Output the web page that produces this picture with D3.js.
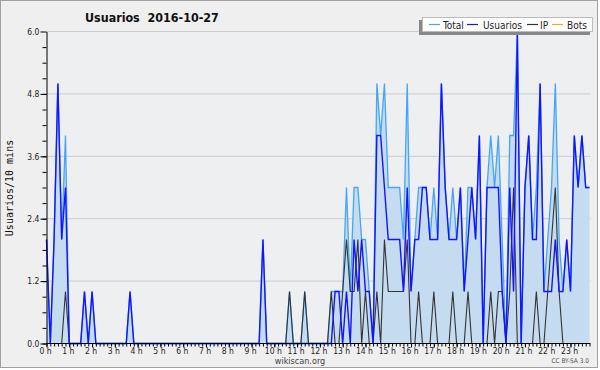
<!DOCTYPE html>
<html>
<head>
<meta charset="utf-8">
<script src="https://cdn.jsdelivr.net/npm/d3@7"></script>
<style>
  body { margin: 0; background: #ffffff; }
  text { font-family: "DejaVu Sans Condensed", "DejaVu Sans", sans-serif; font-stretch: condensed; }
</style>
</head>
<body>
<div id="chart"></div>
<script>
// users per 10 minutes, 144 slots (00:00 .. 23:50)
var usuarios = [
  2,0,2,5,2,3,0,0,0,0,1,0,
  1,0,0,0,0,0,0,0,0,0,1,0,
  0,0,0,0,0,0,0,0,0,0,0,0,
  0,0,0,0,0,0,0,0,0,0,0,0,
  0,0,0,0,0,0,0,0,0,2,0,0,
  0,0,0,0,0,0,0,0,0,0,0,0,
  0,0,0,0,1,1,0,1,0,2,1,2,
  1,1,0,4,4,3,2,2,2,2,1,3,
  1,2,2,3,3,2,2,2,5,3,2,2,
  2,3,1,2,3,2,4,0,3,3,3,3,
  1,0,3,1,6,0,3,4,2,2,5,1,
  1,1,2,1,1,2,1,4,3,4,3,3
];
var ip = [
  0,0,0,0,0,1,0,0,0,0,0,0,
  0,0,0,0,0,0,0,0,0,0,0,0,
  0,0,0,0,0,0,0,0,0,0,0,0,
  0,0,0,0,0,0,0,0,0,0,0,0,
  0,0,0,0,0,0,0,0,0,0,0,0,
  0,0,0,0,1,0,0,0,1,0,0,0,
  0,0,0,1,0,0,1,2,1,1,2,0,
  1,0,0,1,0,2,1,1,1,1,1,2,
  0,0,1,0,0,0,1,0,0,0,0,1,
  0,0,0,1,0,0,0,0,0,1,0,1,
  1,0,1,3,0,0,0,0,0,1,0,0,
  1,2,3,1,0,0,0,0,0,0,0,0
];
var total = [
  2,0,2,5,2,4,0,0,0,0,1,0,
  1,0,0,0,0,0,0,0,0,0,1,0,
  0,0,0,0,0,0,0,0,0,0,0,0,
  0,0,0,0,0,0,0,0,0,0,0,0,
  0,0,0,0,0,0,0,0,0,2,0,0,
  0,0,0,0,1,0,0,0,1,0,0,0,
  0,0,0,1,1,1,1,3,1,3,3,2,
  2,1,0,5,4,5,3,3,3,3,2,5,
  1,2,3,3,3,2,3,2,5,3,2,3,
  2,3,1,3,3,2,4,0,3,4,3,4,
  2,0,4,4,6,0,3,4,2,3,5,1,
  2,3,5,2,1,2,1,4,3,4,3,3
];
var bots = [
  0,0,0,0,0,0,0,0,0,0,0,0,
  0,0,0,0,0,0,0,0,0,0,0,0,
  0,0,0,0,0,0,0,0,0,0,0,0,
  0,0,0,0,0,0,0,0,0,0,0,0,
  0,0,0,0,0,0,0,0,0,0,0,0,
  0,0,0,0,0,0,0,0,0,0,0,0,
  0,0,0,0,0,0,0,0,0,0,0,0,
  0,0,0,0,0,0,0,0,0,0,0,0,
  0,0,0,0,0,0,0,0,0,0,0,0,
  0,0,0,0,0,0,0,0,0,0,0,0,
  0,0,0,0,0,0,0,0,0,0,0,0,
  0,0,0,0,0,0,0,0,0,0,0,0
];
var hourLabels = ["0 h","1 h","2 h","3 h","4 h","5 h","6 h","7 h","8 h","9 h","10 h","11 h",
                  "12 h","13 h","14 h","15 h","16 h","17 h","18 h","19 h","20 h","21 h","22 h","23 h"];
var yTicks = [0, 1.2, 2.4, 3.6, 4.8, 6.0];
var legendNames = ["Total", "Usuarios", "IP", "Bots"];
var legendColors = ["#46a5f5", "#1414ff", "#333333", "#ffa31a"];

var width = 600, height = 370;
var plot = { left: 46.5, right: 589.5, top: 31.5, bottom: 343.5 };

var svg = d3.select("#chart")
    .append("svg")
    .attr("width", width)
    .attr("height", height);

// page frame
svg.append("rect")
    .attr("x", 0.5).attr("y", 0.5)
    .attr("width", 597).attr("height", 367)
    .attr("fill", "#efefef")
    .attr("stroke", "#a0a0a0");

svg.append("rect")
    .attr("x", plot.left).attr("y", plot.top)
    .attr("width", plot.right - plot.left).attr("height", plot.bottom - plot.top)
    .attr("fill", "#edeff1");

// scales: one slot every 10 minutes
var x = d3.scaleLinear()
    .domain([0, usuarios.length - 1])
    .range([plot.left, plot.right]);
var y = d3.scaleLinear()
    .domain([0, 6])
    .range([plot.bottom, plot.top]);

// grid
svg.append("g")
    .selectAll("line")
    .data(yTicks.filter(function (d) { return d > 0; }))
    .enter()
    .append("line")
    .attr("x1", plot.left).attr("x2", plot.right + 1)
    .attr("y1", function (d) { return y(d); })
    .attr("y2", function (d) { return y(d); })
    .attr("stroke", "#cccccc");

// area under total
var area = d3.area()
    .x(function (d, i) { return x(i); })
    .y0(y(0))
    .y1(function (d) { return y(d); });
svg.append("path")
    .datum(total)
    .attr("d", area)
    .attr("fill", "#c5dcf0");

var line = d3.line()
    .x(function (d, i) { return x(i); })
    .y(function (d) { return y(d); });

var series = [
    { values: total, color: legendColors[0], w: 1.3 },
    { values: ip, color: legendColors[2], w: 1.1 },
    { values: usuarios, color: legendColors[1], w: 1.4 },
    { values: bots, color: legendColors[3], w: 1 }
];
series.forEach(function (s) {
    svg.append("path")
        .datum(s.values)
        .attr("d", line)
        .attr("fill", "none")
        .attr("stroke", s.color)
        .attr("stroke-width", s.w)
        .attr("stroke-linejoin", "miter");
});

// y axis: major + minor ticks
svg.append("g")
    .attr("transform", "translate(" + plot.left + ",0)")
    .call(d3.axisLeft(y).tickValues(d3.range(0, 20).map(function (k) { return k * 0.3; })).tickSize(4).tickSizeOuter(0).tickFormat(""))
    .call(function (g) { g.select(".domain").remove(); });
var yAxis = svg.append("g")
    .attr("transform", "translate(" + plot.left + ",0)")
    .call(d3.axisLeft(y).tickValues(yTicks).tickSize(6).tickSizeOuter(0).tickPadding(1)
        .tickFormat(d3.format(".1f")));
yAxis.selectAll("text").attr("font-size", 8.5).attr("fill", "#222")
    .style("font-family", "'DejaVu Sans Condensed', 'DejaVu Sans', sans-serif");

// x axis: 10 minute minor ticks, hour labels
svg.append("g")
    .attr("transform", "translate(0," + plot.bottom + ")")
    .call(d3.axisBottom(x).tickValues(d3.range(0, usuarios.length)).tickSize(3).tickSizeOuter(0).tickFormat(""))
    .call(function (g) { g.select(".domain").remove(); });
var xAxis = svg.append("g")
    .attr("transform", "translate(0," + plot.bottom + ")")
    .call(d3.axisBottom(x).tickValues(hourLabels.map(function (d, i) { return i * 6; }))
        .tickSize(4).tickSizeOuter(0).tickPadding(0)
        .tickFormat(function (d) { return hourLabels[d / 6]; }));
xAxis.selectAll("text").attr("font-size", 8.5).attr("fill", "#222").attr("dx", -1.5)
    .style("font-family", "'DejaVu Sans Condensed', 'DejaVu Sans', sans-serif");
xAxis.select(".domain").attr("d", "M" + plot.left + ",0H" + (plot.right + 1));

// titles
svg.append("text")
    .attr("x", 85).attr("y", 21.5)
    .attr("font-size", 12.4).attr("font-weight", "bold")
    .attr("fill", "#111")
    .text("Usuarios\u00a0\u00a02016-10-27");

svg.append("text")
    .attr("transform", "translate(13,188) rotate(-90)")
    .attr("text-anchor", "middle")
    .attr("font-size", 10)
    .style("font-family", "'DejaVu Sans Mono', monospace")
    .style("font-stretch", "normal")
    .attr("fill", "#111")
    .text("Usuarios/10 mins");

svg.append("text")
    .attr("x", 300).attr("y", 364)
    .attr("text-anchor", "middle")
    .attr("font-size", 9).attr("fill", "#444")
    .text("wikiscan.org");

svg.append("text")
    .attr("x", 589).attr("y", 363)
    .attr("text-anchor", "end")
    .attr("font-size", 6.5).attr("fill", "#555")
    .text("CC BY-SA 3.0");

// legend
var legend = svg.append("g");
legend.append("rect")
    .attr("x", 419).attr("y", 20).attr("width", 171).attr("height", 15)
    .attr("fill", "#888");
legend.append("rect")
    .attr("x", 422.5).attr("y", 17.5).attr("width", 170).attr("height", 14)
    .attr("fill", "#ffffff").attr("stroke", "#bbbbbb");
var legendLineX = [429, 467, 527, 552];
var legendTextX = [443, 483, 540, 567];
legendNames.forEach(function (name, i) {
    legend.append("line")
        .attr("x1", legendLineX[i]).attr("x2", legendLineX[i] + 11)
        .attr("y1", 24.5).attr("y2", 24.5)
        .attr("stroke", legendColors[i]).attr("stroke-width", 1.2);
    legend.append("text")
        .attr("x", legendTextX[i]).attr("y", 28.5)
        .attr("font-size", 10).attr("fill", "#222")
        .text(name);
});
</script>
</body>
</html>
